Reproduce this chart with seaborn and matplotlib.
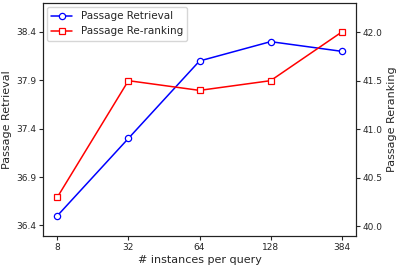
import numpy as np
import pandas as pd
import seaborn as sns
import matplotlib.pyplot as plt

# values
instances = ['8', '32', '64', '128', '384']
retrieval = [36.5, 37.3, 38.1, 38.3, 38.2]
reranking = [40.3, 41.5, 41.4, 41.5, 42.0]

def make_plot():
    sns.set_style('ticks')
    plt.rcParams['font.family'] = ['DejaVu Sans']

    df = pd.DataFrame({'pos': np.arange(len(instances)),
                       'retrieval': retrieval,
                       'reranking': reranking})

    fig, ax = plt.subplots(figsize=(3.99, 2.68), dpi=100)
    fig.subplots_adjust(left=0.108, right=0.892, top=0.989, bottom=0.119)
    ax2 = ax.twinx()

    sns.lineplot(data=df, x='pos', y='retrieval', ax=ax, color='blue',
                 marker='o', markersize=4.5, markerfacecolor='white',
                 markeredgecolor='blue', markeredgewidth=0.9, linewidth=1.1,
                 label='Passage Retrieval', legend=False)
    sns.lineplot(data=df, x='pos', y='reranking', ax=ax2, color='red',
                 marker='s', markersize=4.5, markerfacecolor='white',
                 markeredgecolor='red', markeredgewidth=0.9, linewidth=1.1,
                 label='Passage Re-ranking', legend=False)

    ax.set_xticks(df['pos'])
    ax.set_xticklabels(instances)
    ax.set_xlim(-0.2, 4.2)
    ax.set_ylim(36.29, 38.7)
    ax2.set_ylim(39.9, 42.3)
    ax.set_yticks([36.4, 36.9, 37.4, 37.9, 38.4])
    ax2.set_yticks([40.0, 40.5, 41.0, 41.5, 42.0])
    ax.yaxis.set_major_formatter(plt.FormatStrFormatter('%.1f'))
    ax2.yaxis.set_major_formatter(plt.FormatStrFormatter('%.1f'))

    ax.set_xlabel('# instances per query', fontsize=8, labelpad=2)
    ax.set_ylabel('Passage Retrieval', fontsize=8, labelpad=3)
    ax2.set_ylabel('Passage Reranking', fontsize=8, labelpad=3)
    for a in (ax, ax2):
        a.tick_params(labelsize=6.5, length=3, width=0.8, pad=2)
        for s in a.spines.values():
            s.set_linewidth(0.8)
            s.set_color('#222222')

    h1, l1 = ax.get_legend_handles_labels()
    h2, l2 = ax2.get_legend_handles_labels()
    ax.legend(h1 + h2, l1 + l2, loc='upper left', fontsize=7.5,
              frameon=True, handlelength=2, borderaxespad=0.4)

    plt.savefig('out.png', dpi=100)
    plt.close()

make_plot()
